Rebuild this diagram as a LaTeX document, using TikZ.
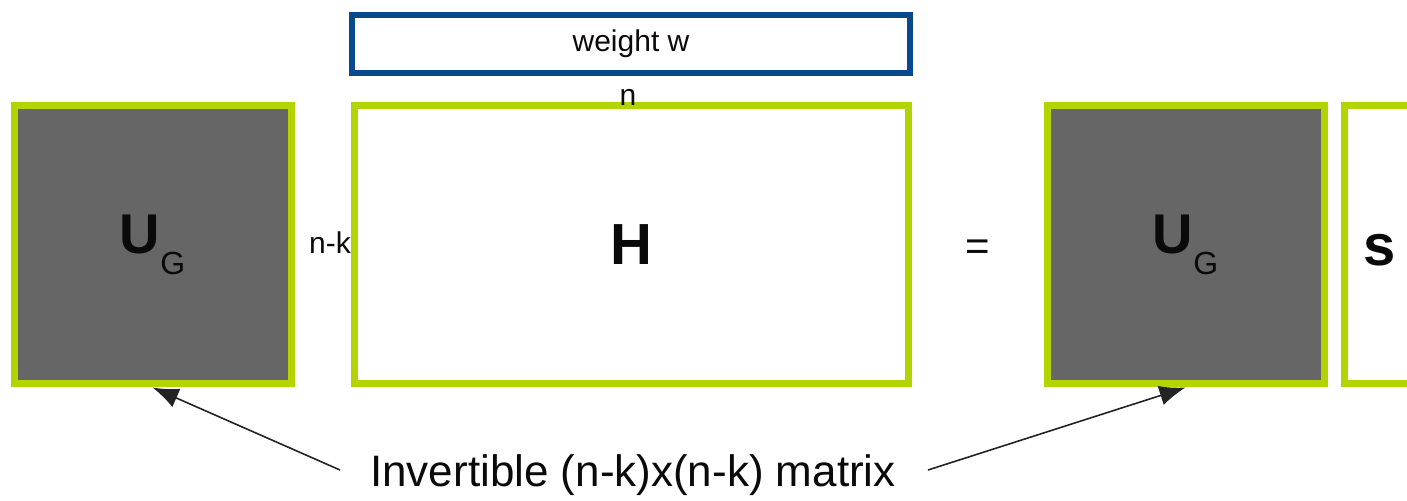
\documentclass[tikz,border=0pt]{standalone}
\usepackage{fontspec}
\setmainfont{Liberation Sans}
\usetikzlibrary{arrows.meta}
\definecolor{lime}{RGB}{180,212,0}
\definecolor{navy}{RGB}{8,72,140}
\definecolor{darkfill}{RGB}{102,102,102}
\definecolor{ink}{RGB}{10,10,10}
\tikzset{
  mat/.style={draw=lime, line width=3.5pt, inner sep=0pt},
  darkmat/.style={mat, fill=darkfill},
  wbox/.style={draw=navy, line width=3pt, inner sep=0pt},
  lbl/.style={text=ink, inner sep=0pt},
  ptr/.style={draw=ink!90, line width=0.8pt, -{Latex[length=13pt,width=10pt]}}
}
\begin{document}
\begin{tikzpicture}[x=0.5pt,y=-0.5pt]
\useasboundingbox (0,0) rectangle (1407,501);
\clip (0,0) rectangle (1407,501);
% matrices
\node[darkmat, minimum width=138.5pt, minimum height=139pt] (ugl) at (152.5,245)
  {\color{ink}\fontsize{28}{30}\selectfont\bfseries U\raisebox{-10.5pt}{\fontsize{16}{17}\selectfont\mdseries G}};
\node[mat, minimum width=277pt, minimum height=139pt] (H) at (631,245)
  {\color{ink}\fontsize{29}{30}\selectfont\bfseries H};
\node[darkmat, minimum width=138.5pt, minimum height=139pt] (ugr) at (1185.5,245)
  {\color{ink}\fontsize{28}{30}\selectfont\bfseries U\raisebox{-10.5pt}{\fontsize{16}{17}\selectfont\mdseries G}};
\node[mat, minimum width=138.5pt, minimum height=139pt] (sbox) at (1482.5,245) {};
\node[lbl, font=\fontsize{29}{30}\selectfont\bfseries] (s) at (1380,250) {s};
% weight box
\node[wbox, minimum width=279pt, minimum height=29pt] (w) at (631,44)
  {\color{ink}\fontsize{15}{16}\selectfont weight w};
% labels
\node[lbl, font=\fontsize{15}{16}\selectfont] (n) at (628,97) {n};
\node[lbl, font=\fontsize{15}{16}\selectfont] (nk) at (330,243) {n-k};
\node[lbl, font=\fontsize{21}{22}\selectfont] (eq) at (978,250) {=};
\node[lbl, font=\fontsize{22}{23}\selectfont] (txt) at (633,475) {Invertible (n-k)x(n-k) matrix};
% pointers
\coordinate (a1) at (340,470);
\coordinate (a2) at (928,470);
\draw[ptr] (a1) -- (ugl.south);
\draw[ptr] (a2) -- (ugr.south);
\end{tikzpicture}
\end{document}
